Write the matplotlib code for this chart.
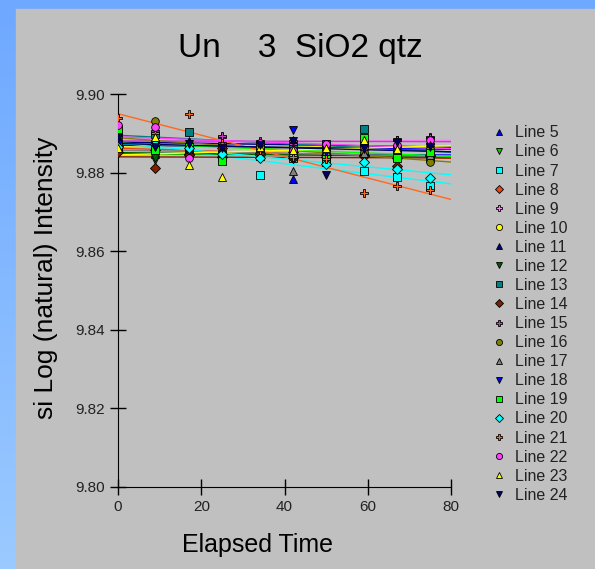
import numpy as np
import matplotlib
matplotlib.use('Agg')
import matplotlib.pyplot as plt
from matplotlib.patches import Rectangle

plt.rcParams['font.family'] = ['Liberation Sans', 'DejaVu Sans']

# elapsed time of each measurement
elapsed = [0, 9, 17, 25, 34, 42, 50, 59, 67, 75]

line_names = ['Line %d' % n for n in range(5, 25)]

# log intensity per line, one list per series
line_05 = [9.8862, 9.8848, 9.8855, 9.8851, 9.8843, 9.8784, 9.8858, 9.8853, 9.8862, 9.8850]
line_06 = [9.8850, 9.8832, 9.8858, 9.8846, 9.8852, 9.8840, 9.8849, 9.8838, 9.8846, 9.8842]
line_07 = [9.8866, 9.8872, 9.8858, 9.8842, 9.8795, 9.8838, 9.8826, 9.8804, 9.8788, 9.8766]
line_08 = [9.8868, 9.8858, 9.8848, 9.8862, 9.8845, 9.8852, 9.8840, 9.8846, 9.8838, 9.8842]
line_09 = [9.8882, 9.8876, 9.8868, 9.8890, 9.8872, 9.8880, 9.8866, 9.8878, 9.8884, 9.8891]
line_10 = [9.8878, 9.8862, 9.8870, 9.8858, 9.8866, 9.8860, 9.8872, 9.8868, 9.8856, 9.8874]
line_11 = [9.8886, 9.8868, 9.8880, 9.8862, 9.8874, 9.8882, 9.8858, 9.8868, 9.8876, 9.8862]
line_12 = [9.8858, 9.8838, 9.8850, 9.8846, 9.8852, 9.8844, 9.8848, 9.8840, 9.8846, 9.8838]
line_13 = [9.8902, 9.8898, 9.8903, 9.8840, 9.8868, 9.8860, 9.8872, 9.8912, 9.8858, 9.8836]
line_14 = [9.8852, 9.8812, 9.8846, 9.8840, 9.8850, 9.8838, 9.8846, 9.8842, 9.8818, 9.8844]
line_15 = [9.8890, 9.8876, 9.8872, 9.8893, 9.8880, 9.8872, 9.8868, 9.8876, 9.8882, 9.8889]
line_16 = [9.8872, 9.8931, 9.8858, 9.8850, 9.8862, 9.8846, 9.8858, 9.8852, 9.8838, 9.8828]
line_17 = [9.8868, 9.8858, 9.8862, 9.8850, 9.8842, 9.8804, 9.8856, 9.8850, 9.8858, 9.8846]
line_18 = [9.8874, 9.8862, 9.8858, 9.8866, 9.8856, 9.8908, 9.8852, 9.8860, 9.8854, 9.8858]
line_19 = [9.8912, 9.8858, 9.8866, 9.8830, 9.8862, 9.8854, 9.8834, 9.8888, 9.8836, 9.8852]
line_20 = [9.8864, 9.8872, 9.8862, 9.8848, 9.8838, 9.8842, 9.8822, 9.8826, 9.8810, 9.8786]
line_21 = [9.8938, 9.8902, 9.8949, 9.8876, 9.8858, 9.8840, 9.8834, 9.8748, 9.8766, 9.8756]
line_22 = [9.8921, 9.8916, 9.8837, 9.8868, 9.8876, 9.8858, 9.8872, 9.8866, 9.8870, 9.8884]
line_23 = [9.8862, 9.8890, 9.8820, 9.8789, 9.8866, 9.8858, 9.8862, 9.8884, 9.8860, 9.8870]
line_24 = [9.8888, 9.8866, 9.8874, 9.8862, 9.8870, 9.8880, 9.8794, 9.8862, 9.8878, 9.8866]

series = [line_05, line_06, line_07, line_08, line_09, line_10, line_11,
          line_12, line_13, line_14, line_15, line_16, line_17, line_18,
          line_19, line_20, line_21, line_22, line_23, line_24]

colors = ['#0000ff', '#20c000', '#00ffff', '#e84818', '#ff80ff', '#ffff00',
          '#000080', '#006000', '#008080', '#802000', '#c040c0', '#808000',
          '#808080', '#0000ff', '#00ff00', '#00ffff', '#ff6820', '#ff40ff',
          '#ffff00', '#000060']
markers = ['^', 'v', 's', 'D', 'P', 'o', '^', 'v', 's', 'D',
           'P', 'o', '^', 'v', 's', 'D', 'P', 'o', '^', 'v']

fig = plt.figure(figsize=(5.95, 5.69), dpi=100)

# blue gradient frame with a grey panel on top
bg = fig.add_axes([0, 0, 1, 1], zorder=-10)
grad = np.linspace(0, 1, 256)[:, None, None]
top = np.array([110, 168, 255]) / 255
bottom = np.array([155, 202, 255]) / 255
bg.imshow(top + (bottom - top) * grad, aspect='auto', extent=[0, 1, 0, 1])
bg.add_patch(Rectangle((16 / 595, 0), 1, 1 - 9 / 569, color='#c0c0c0'))
bg.set_xlim(0, 1)
bg.set_ylim(0, 1)
bg.axis('off')

ax = fig.add_axes([118 / 595, 1 - 487 / 569, 333 / 595, 393 / 569])
ax.patch.set_alpha(0)

# fitted trend line under the points of each series
xfit = np.array([0, 80])
handles = []
for ys, col, mk, name in zip(series, colors, markers, line_names):
    slope, icpt = np.polyfit(elapsed, ys, 1)
    ax.plot(xfit, icpt + slope * xfit, color=col, lw=1, zorder=2)
    h, = ax.plot(elapsed, ys, ls='none', marker=mk, ms=5.5, mfc=col,
                 mec='black', mew=0.6, label=name, zorder=3)
    handles.append(h)

ax.set_xlim(0, 80)
ax.set_ylim(9.80, 9.90)
ax.set_xticks([0, 20, 40, 60, 80])
ax.set_yticks([9.80, 9.82, 9.84, 9.86, 9.88, 9.90])
ax.set_yticklabels(['9.80', '9.82', '9.84', '9.86', '9.88', '9.90'])
ax.tick_params(direction='inout', length=11, width=1, labelsize=11,
               labelcolor='#222222', pad=4)
ax.spines['top'].set_visible(False)
ax.spines['right'].set_visible(False)

fig.text(300 / 595, 1 - 48 / 569, 'Un    3  SiO2 qtz', ha='center',
         va='center', fontsize=24)
fig.text(258 / 595, 1 - 545 / 569, 'Elapsed Time', ha='center',
         va='center', fontsize=18)
fig.text(46 / 595, 1 - 278 / 569, 'si Log (natural) Intensity', ha='center',
         va='center', rotation=90, fontsize=19)

leg = fig.legend(handles=handles, loc='upper left',
                 bbox_to_anchor=(477 / 595, 1 - 111 / 569), frameon=False,
                 fontsize=11.5, handlelength=1.0, handletextpad=0.5,
                 labelspacing=0.255, markerscale=0.8, labelcolor='#222222')

fig.savefig('out.png', dpi=100)
